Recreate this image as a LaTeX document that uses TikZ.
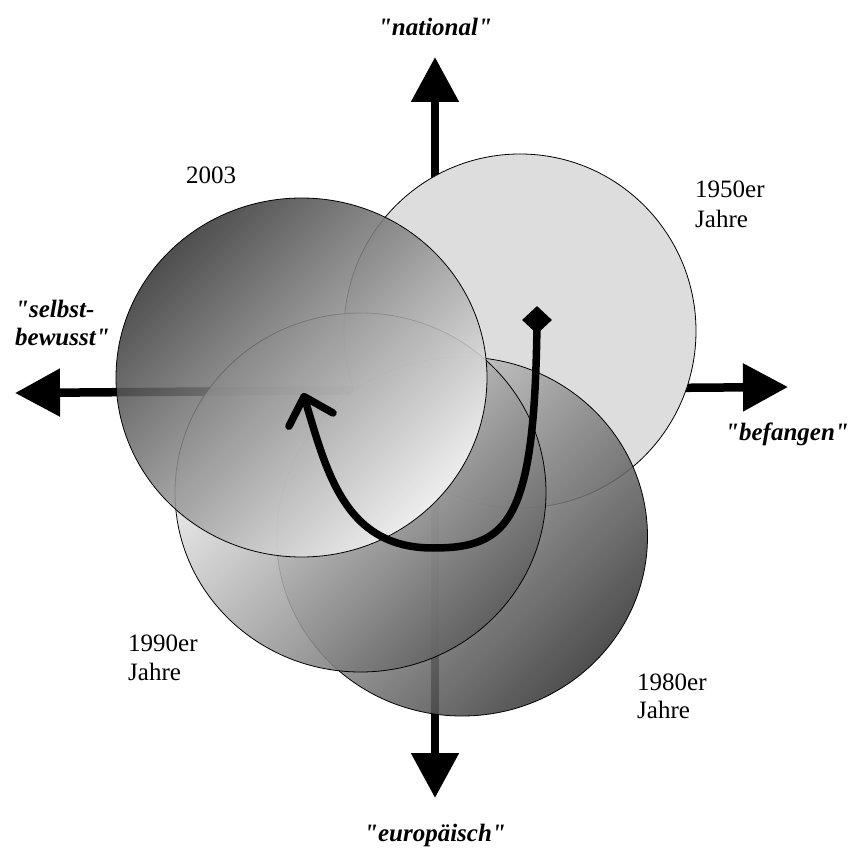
\documentclass[tikz,border=0pt]{standalone}
\usepackage{fontspec}
\setmainfont{Liberation Serif}[Ligatures=TeXOff]
\usetikzlibrary{arrows.meta, shapes.geometric}

\definecolor{fifties}{RGB}{221,221,221}
\definecolor{eightiesA}{RGB}{220,220,220}
\definecolor{eightiesB}{RGB}{55,55,55}
\definecolor{ninetiesA}{RGB}{255,255,255}
\definecolor{ninetiesB}{RGB}{95,95,95}
\definecolor{nowA}{RGB}{55,55,55}
\definecolor{nowB}{RGB}{250,250,250}

\begin{document}
\begin{tikzpicture} [x=1pt, y=-1pt,
    every node/.style = {font=\fontsize{25}{29}\selectfont},
    era/.style = {ellipse, draw, line width=0.8pt, inner sep=0pt,
        minimum width=371pt, minimum height=359pt},
    shaded era/.style 2 args = {era, fill opacity=0.88,
        top color=#1, bottom color=#2, shading angle=45},
    axis/.style = {line width=8.5pt, >={Triangle[length=45pt,width=46pt]}, <->},
    pole/.style = {font=\fontsize{25}{28}\selectfont\bfseries\itshape},
    tag/.style = {align=left, inner sep=0pt, anchor=north west}]
    % \draw [help lines] (0,0) grid [step=50] (854,850);
    \useasboundingbox (0,0) rectangle (854,850);
    \coordinate (west) at (15,393);
    \coordinate (east) at (788,387);
    \coordinate (north) at (435,57);
    \coordinate (south) at (435,798);
    \draw [axis] (west) -- (east);
    \draw [axis] (south) -- (north);

    \node (c50) [era, fill=fifties,
        minimum width=352pt, minimum height=354pt] at (520,331) {};
    \node (c80) [shaded era={eightiesA}{eightiesB}] at (462,536.5) {};
    \node (c90) [shaded era={ninetiesA}{ninetiesB}] at (360.5,492.5) {};
    \node (c03) [shaded era={nowA}{nowB}] at (301.5,377.5) {};

    \node (start) [diamond, fill, inner sep=0pt,
        minimum width=30pt, minimum height=28pt] at (537,320) {};
    \coordinate (bend) at (433,548);
    \coordinate (tip) at (303,393);
    \draw [line width=7.5pt, -{Straight Barb[length=24pt,width=46pt,round]}]
        (start.center) .. controls (535,520) and (510,548) .. (bend)
        .. controls (345,548) and (327,473) .. (tip);

    \node (l03) [anchor=base west, inner sep=0pt] at (186,184) {2003};
    \node (l50) [tag, font=\fontsize{25}{30}\selectfont] at (695,181) {1950er\\Jahre};
    \node (l90) [tag] at (128,635) {1990er\\Jahre};
    \node (l80) [tag, font=\fontsize{25}{28}\selectfont] at (637,674) {1980er\\Jahre};

    \node (nat) [pole, anchor=base, inner sep=0pt] at (435,36) {"national"};
    \node (sel) [pole, tag] at (15,300) {"selbst-\\bewusst"};
    \node (bef) [pole, anchor=base west, inner sep=0pt] at (725,440) {"befangen"};
    \node (eur) [pole, anchor=base, inner sep=0pt] at (435,841) {"europäisch"};
\end{tikzpicture}
\end{document}
